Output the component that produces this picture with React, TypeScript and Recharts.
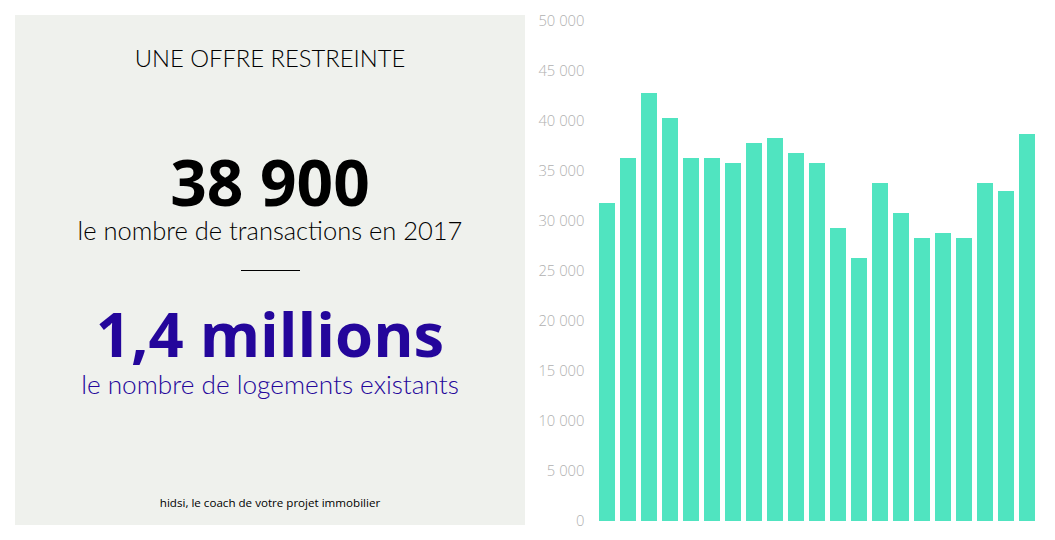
import React from "react";
import { BarChart, Bar, XAxis, YAxis } from "recharts";

const periods = ["T1","T2","T3","T4","T5","T6","T7","T8","T9","T10","T11","T12","T13","T14","T15","T16","T17","T18","T19","T20","T21"];
const transactions = [31800,36300,42800,40300,36300,36300,35800,37800,38300,36800,35800,29300,26300,33800,30800,28300,28800,28300,33800,33000,38700];
const yTicks = [0,5000,10000,15000,20000,25000,30000,35000,40000,45000,50000];
const data = periods.map((p, i) => ({ period: p, value: transactions[i] }));

const fmt = (v: number) => String(v).replace(/\B(?=(\d{3})+$)/g, " ");

const centered = (top: number, size: number, weight: number, color: string, text: string, family = "Lato") => (
  <div style={{ position: "absolute", left: 0, width: 510, top, textAlign: "center", fontSize: size, fontWeight: weight, color, fontFamily: family, lineHeight: 1, whiteSpace: "nowrap" }}>{text}</div>
);

export default function App() {
  return (
    <div style={{ position: "absolute", left: 0, top: 0, width: 1055, height: 540, background: "#fff", overflow: "hidden" }}>
      <div style={{ position: "absolute", left: 15, top: 15, width: 510, height: 510, background: "#eff1ed" }}>
        {centered(32, 23.8, 300, "#000", "UNE OFFRE RESTREINTE")}
        {centered(135, 64, 700, "#000", "38 900", "Open Sans")}
        {centered(203, 25.5, 300, "#000", "le nombre de transactions en 2017")}
        <div style={{ position: "absolute", left: 226, width: 59, top: 255, height: 1, background: "#000" }} />
        {centered(288, 61.5, 700, "#24069b", "1,4 millions", "Open Sans")}
        {centered(356, 26.2, 300, "#24069b", "le nombre de logements existants")}
        {centered(482, 11.6, 400, "#000", "hidsi, le coach de votre projet immobilier", "Open Sans")}
      </div>
      <div style={{ position: "absolute", left: 530, top: 0 }}>
        <BarChart width={525} height={540} data={data} margin={{ top: 21, right: 17.5, bottom: 19, left: 0 }} barCategoryGap={2.5}>
          <XAxis dataKey="period" hide />
          <YAxis
            width={66.5}
            domain={[0, 50000]}
            ticks={yTicks}
            interval={0}
            tickFormatter={fmt}
            axisLine={false}
            tickLine={false}
            tickSize={0}
            tickMargin={12}
            tick={{ fill: "#b0b0b0", fontSize: 14.8, fontFamily: "Open Sans", fontWeight: 300 }}
          />
          <Bar dataKey="value" fill="#50e4c0" isAnimationActive={false} />
        </BarChart>
      </div>
    </div>
  );
}
